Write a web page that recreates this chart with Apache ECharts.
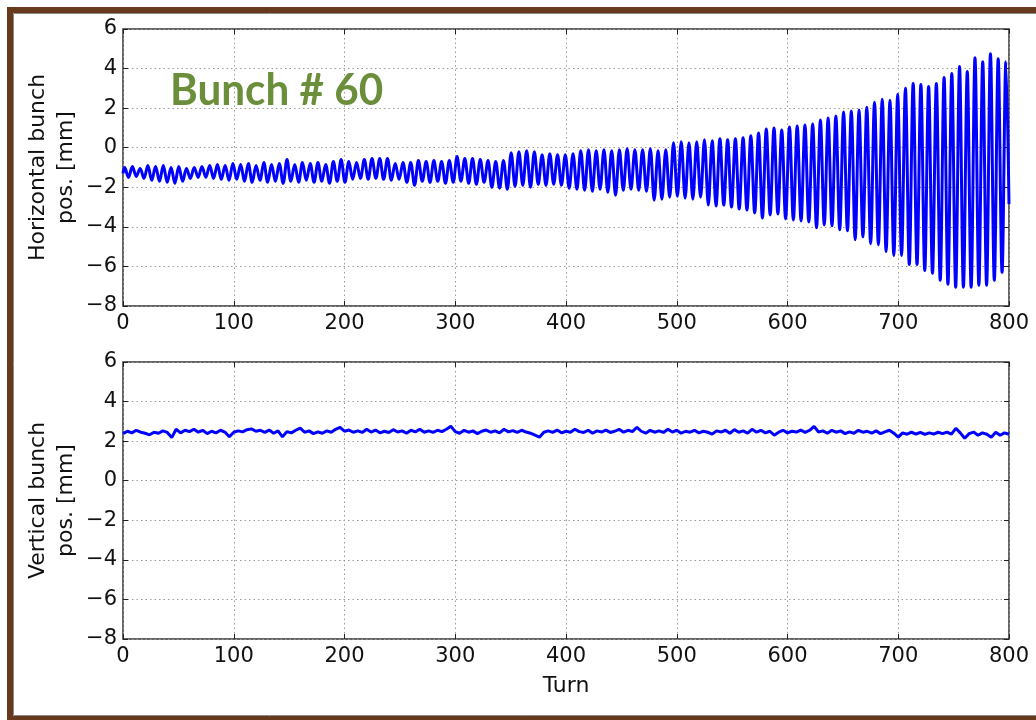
<!DOCTYPE html>
<html>
<head>
<meta charset="utf-8">
<script src="https://cdn.jsdelivr.net/npm/echarts@6/dist/echarts.min.js"></script>
<style>
  html, body { margin: 0; padding: 0; background: #ffffff; }
  #chart { width: 1036px; height: 720px; }
</style>
</head>
<body>
<div id="chart"></div>
<script>
// Horizontal oscillation: one crest and one trough per betatron period (mm)
const hStartTurn = 1.5;        // turn of the first crest
const hPeriod = 6.98;          // turns per oscillation
const hStartValue = -1.3;      // position at turn 0
const hEndValue = -2.85;       // position at turn 800
const hCrests = [
  -1.0, -0.95, -1.05, -0.9, -0.95, -0.9, -1.0, -0.95, -1.05, -1.0, -0.95, -0.9, -0.85, -0.9, -0.8,
  -0.85, -0.8, -0.9, -0.75, -0.85, -0.8, -0.6, -0.85, -0.75, -0.8, -0.75, -0.85, -0.7, -0.6,
  -0.7, -0.75, -0.6, -0.55, -0.55, -0.55, -0.8, -0.75, -0.75, -0.65, -0.7, -0.65, -0.7, -0.65,
  -0.45, -0.55, -0.55, -0.6, -0.65, -0.7, -0.65, -0.25, -0.2, -0.15, -0.2, -0.35, -0.3, -0.35,
  -0.35, -0.3, -0.15, -0.1, -0.15, -0.1, -0.15, -0.1, -0.05, -0.1, -0.1, -0.05, -0.15, -0.1,
  0.25, 0.3, 0.25, 0.3, 0.4, 0.35, 0.45, 0.4, 0.45, 0.5, 0.6, 0.75, 0.95,
  1.0, 0.9, 1.05, 1.1, 1.15, 1.2, 1.4, 1.5, 1.6, 1.8, 1.85, 1.9, 2.05, 2.3, 2.45, 2.4,
  2.7, 3.0, 3.25, 3.2, 3.1, 3.25, 3.55, 3.75, 4.1, 3.85, 4.55, 4.35, 4.75, 4.5, 4.35
];
const hTroughs = [
  -1.5, -1.45, -1.55, -1.65, -1.7, -1.75, -1.8, -1.7, -1.55, -1.5, -1.5, -1.55, -1.6, -1.65, -1.6,
  -1.7, -1.75, -1.65, -1.75, -1.7, -1.8, -1.7, -1.75, -1.65, -1.75, -1.7, -1.8, -1.7, -1.75,
  -1.6, -1.55, -1.6, -1.55, -1.6, -1.65, -1.6, -1.75, -1.9, -1.7, -1.75, -1.7, -1.8, -1.75,
  -1.7, -1.8, -1.85, -1.75, -2.0, -2.05, -2.1, -1.95, -1.9, -2.0, -1.85, -1.9, -1.85, -1.9,
  -2.05, -2.1, -2.15, -2.2, -2.1, -2.25, -2.4, -2.15, -2.1, -2.15, -2.2, -2.65, -2.6,
  -2.5, -2.45, -2.55, -2.6, -2.5, -2.9, -2.95, -2.9, -3.0, -3.1, -3.15, -3.3, -3.55,
  -3.4, -3.35, -3.6, -3.65, -3.7, -3.75, -4.05, -3.9, -3.95, -4.15, -4.2, -4.65, -4.5, -4.85,
  -4.9, -5.25, -5.45, -5.45, -5.9, -5.9, -6.2, -6.35, -6.7, -6.9, -7.05, -7.05, -7.05, -6.95,
  -6.95, -6.7, -6.3
];

// Vertical position, one reading every 4 turns (mm)
const vStep = 4;
const vPositions = [
  2.38, 2.5, 2.42, 2.55, 2.45, 2.4, 2.32, 2.45, 2.4, 2.52,
  2.44, 2.18, 2.6, 2.42, 2.55, 2.48, 2.6, 2.45, 2.55, 2.38,
  2.5, 2.42, 2.55, 2.46, 2.22, 2.45, 2.52, 2.47, 2.58, 2.62,
  2.5, 2.55, 2.44, 2.56, 2.4, 2.52, 2.22, 2.48, 2.42, 2.55,
  2.66, 2.45, 2.52, 2.38, 2.47, 2.4, 2.52, 2.45, 2.6, 2.7,
  2.5, 2.56, 2.45, 2.52, 2.44, 2.6, 2.46, 2.56, 2.42, 2.5,
  2.44, 2.58, 2.46, 2.52, 2.4, 2.55, 2.47, 2.6, 2.45, 2.52,
  2.44, 2.55, 2.48, 2.6, 2.75, 2.48, 2.4, 2.55, 2.45, 2.52,
  2.38, 2.5, 2.56, 2.45, 2.52, 2.42, 2.6, 2.47, 2.53, 2.44,
  2.55, 2.46, 2.4, 2.3, 2.2, 2.45, 2.52, 2.44, 2.56, 2.42,
  2.5, 2.45, 2.6, 2.48, 2.44, 2.55, 2.4, 2.52, 2.46, 2.56,
  2.44, 2.5, 2.6, 2.45, 2.55, 2.48, 2.7, 2.5, 2.4, 2.55,
  2.45, 2.52, 2.44, 2.6, 2.46, 2.55, 2.4, 2.5, 2.45, 2.55,
  2.42, 2.5, 2.45, 2.36, 2.52, 2.46, 2.55, 2.4, 2.58, 2.45,
  2.52, 2.4, 2.6, 2.45, 2.55, 2.42, 2.5, 2.3, 2.45, 2.55,
  2.42, 2.5, 2.46, 2.56, 2.44, 2.55, 2.75, 2.46, 2.52, 2.4,
  2.55, 2.45, 2.52, 2.38, 2.47, 2.4, 2.55, 2.45, 2.5, 2.4,
  2.52, 2.38, 2.47, 2.55, 2.4, 2.2, 2.42, 2.35, 2.45, 2.36,
  2.44, 2.34, 2.42, 2.36, 2.45, 2.38, 2.46, 2.35, 2.65, 2.42,
  2.15, 2.38, 2.46, 2.3, 2.42, 2.35, 2.2, 2.45, 2.3, 2.42,
  2.35
];

const turnMin = 0, turnMax = 800, turnStep = 100;
const posMin = -8, posMax = 6, posStep = 2;

// Build [turn, value] pairs
const hData = [[turnMin, hStartValue]];
hCrests.forEach(function (c, k) {
  const t = hStartTurn + hPeriod * k;
  hData.push([t, c]);
  if (k < hTroughs.length) hData.push([t + hPeriod / 2, hTroughs[k]]);
});
hData.push([turnMax, hEndValue]);
const vData = vPositions.map(function (v, i) { return [i * vStep, v]; });

const FONT = 'DejaVu Sans';
const TICK_FONT = 21;
const minus = function (v) { return String(v).replace('-', '\u2212'); };
const tickStyle = { show: true, inside: true, length: 5, lineStyle: { color: '#222', width: 1 } };
const gridLine = { show: true, lineStyle: { color: '#9a9a9a', width: 1, type: [1.5, 3] } };

function xAxes(gridIndex) {
  return [
    {
      type: 'value', gridIndex: gridIndex, min: turnMin, max: turnMax, interval: turnStep,
      position: 'bottom',
      axisLine: { show: false, onZero: false },
      axisTick: tickStyle,
      axisLabel: { show: true, margin: 7, color: '#111', fontFamily: FONT, fontSize: TICK_FONT },
      splitLine: gridLine
    },
    {
      type: 'value', gridIndex: gridIndex, min: turnMin, max: turnMax, interval: turnStep,
      position: 'top',
      axisLine: { show: false, onZero: false },
      axisTick: tickStyle,
      axisLabel: { show: false },
      splitLine: { show: false }
    }
  ];
}
function yAxes(gridIndex) {
  return [
    {
      type: 'value', gridIndex: gridIndex, min: posMin, max: posMax, interval: posStep,
      position: 'left',
      axisLine: { show: false, onZero: false },
      axisTick: tickStyle,
      axisLabel: { show: true, margin: 6, color: '#111', fontFamily: FONT, fontSize: TICK_FONT, formatter: minus },
      splitLine: gridLine
    },
    {
      type: 'value', gridIndex: gridIndex, min: posMin, max: posMax, interval: posStep,
      position: 'right',
      axisLine: { show: false, onZero: false },
      axisTick: tickStyle,
      axisLabel: { show: false },
      splitLine: { show: false }
    }
  ];
}

const chart = echarts.init(document.getElementById('chart'), null, { renderer: 'canvas' });

const titleStyle = { fontFamily: FONT, fontSize: 22, fill: '#111', align: 'center', verticalAlign: 'middle', lineHeight: 28 };

chart.setOption({
  animation: false,
  backgroundColor: '#ffffff',
  grid: [
    { left: 123, right: 27, top: 29, height: 277, show: true, borderColor: '#333', borderWidth: 1.5, backgroundColor: 'transparent' },
    { left: 123, right: 27, top: 362, height: 277, show: true, borderColor: '#333', borderWidth: 1.5, backgroundColor: 'transparent' }
  ],
  xAxis: xAxes(0).concat(xAxes(1)),
  yAxis: yAxes(0).concat(yAxes(1)),
  series: [
    {
      type: 'line', xAxisIndex: 0, yAxisIndex: 0, data: hData,
      showSymbol: false, smooth: 0.35,
      lineStyle: { color: '#0000ff', width: 3 }
    },
    {
      type: 'line', xAxisIndex: 2, yAxisIndex: 2, data: vData,
      showSymbol: false, smooth: false,
      lineStyle: { color: '#0000ff', width: 3 }
    }
  ],
  graphic: [
    // frame
    { type: 'rect', z: 100, silent: true, shape: { x: 10, y: 10, width: 1060, height: 709 },
      style: { fill: 'none', stroke: '#673a1e', lineWidth: 6 } },
    { type: 'rect', z: 100, silent: true, shape: { x: 13.5, y: 13.5, width: 1060, height: 702 },
      style: { fill: 'none', stroke: '#8a8a8a', lineWidth: 1 } },
    // axis titles
    { type: 'text', x: 52, y: 167.5, rotation: Math.PI / 2,
      style: Object.assign({ text: 'Horizontal bunch\npos. [mm]' }, titleStyle) },
    { type: 'text', x: 52, y: 500.5, rotation: Math.PI / 2,
      style: Object.assign({ text: 'Vertical bunch\npos. [mm]' }, titleStyle) },
    { type: 'text', x: 566, y: 686,
      style: Object.assign({ text: 'Turn' }, titleStyle) },
    // panel label
    { type: 'text', x: 170, y: 91, z: 50, scaleX: 0.96,
      style: { text: 'Bunch # 60', fontFamily: 'Lato', fontWeight: 'bold', fontSize: 44,
               fill: '#6b8e3b', align: 'left', verticalAlign: 'middle' } }
  ]
});
</script>
</body>
</html>
